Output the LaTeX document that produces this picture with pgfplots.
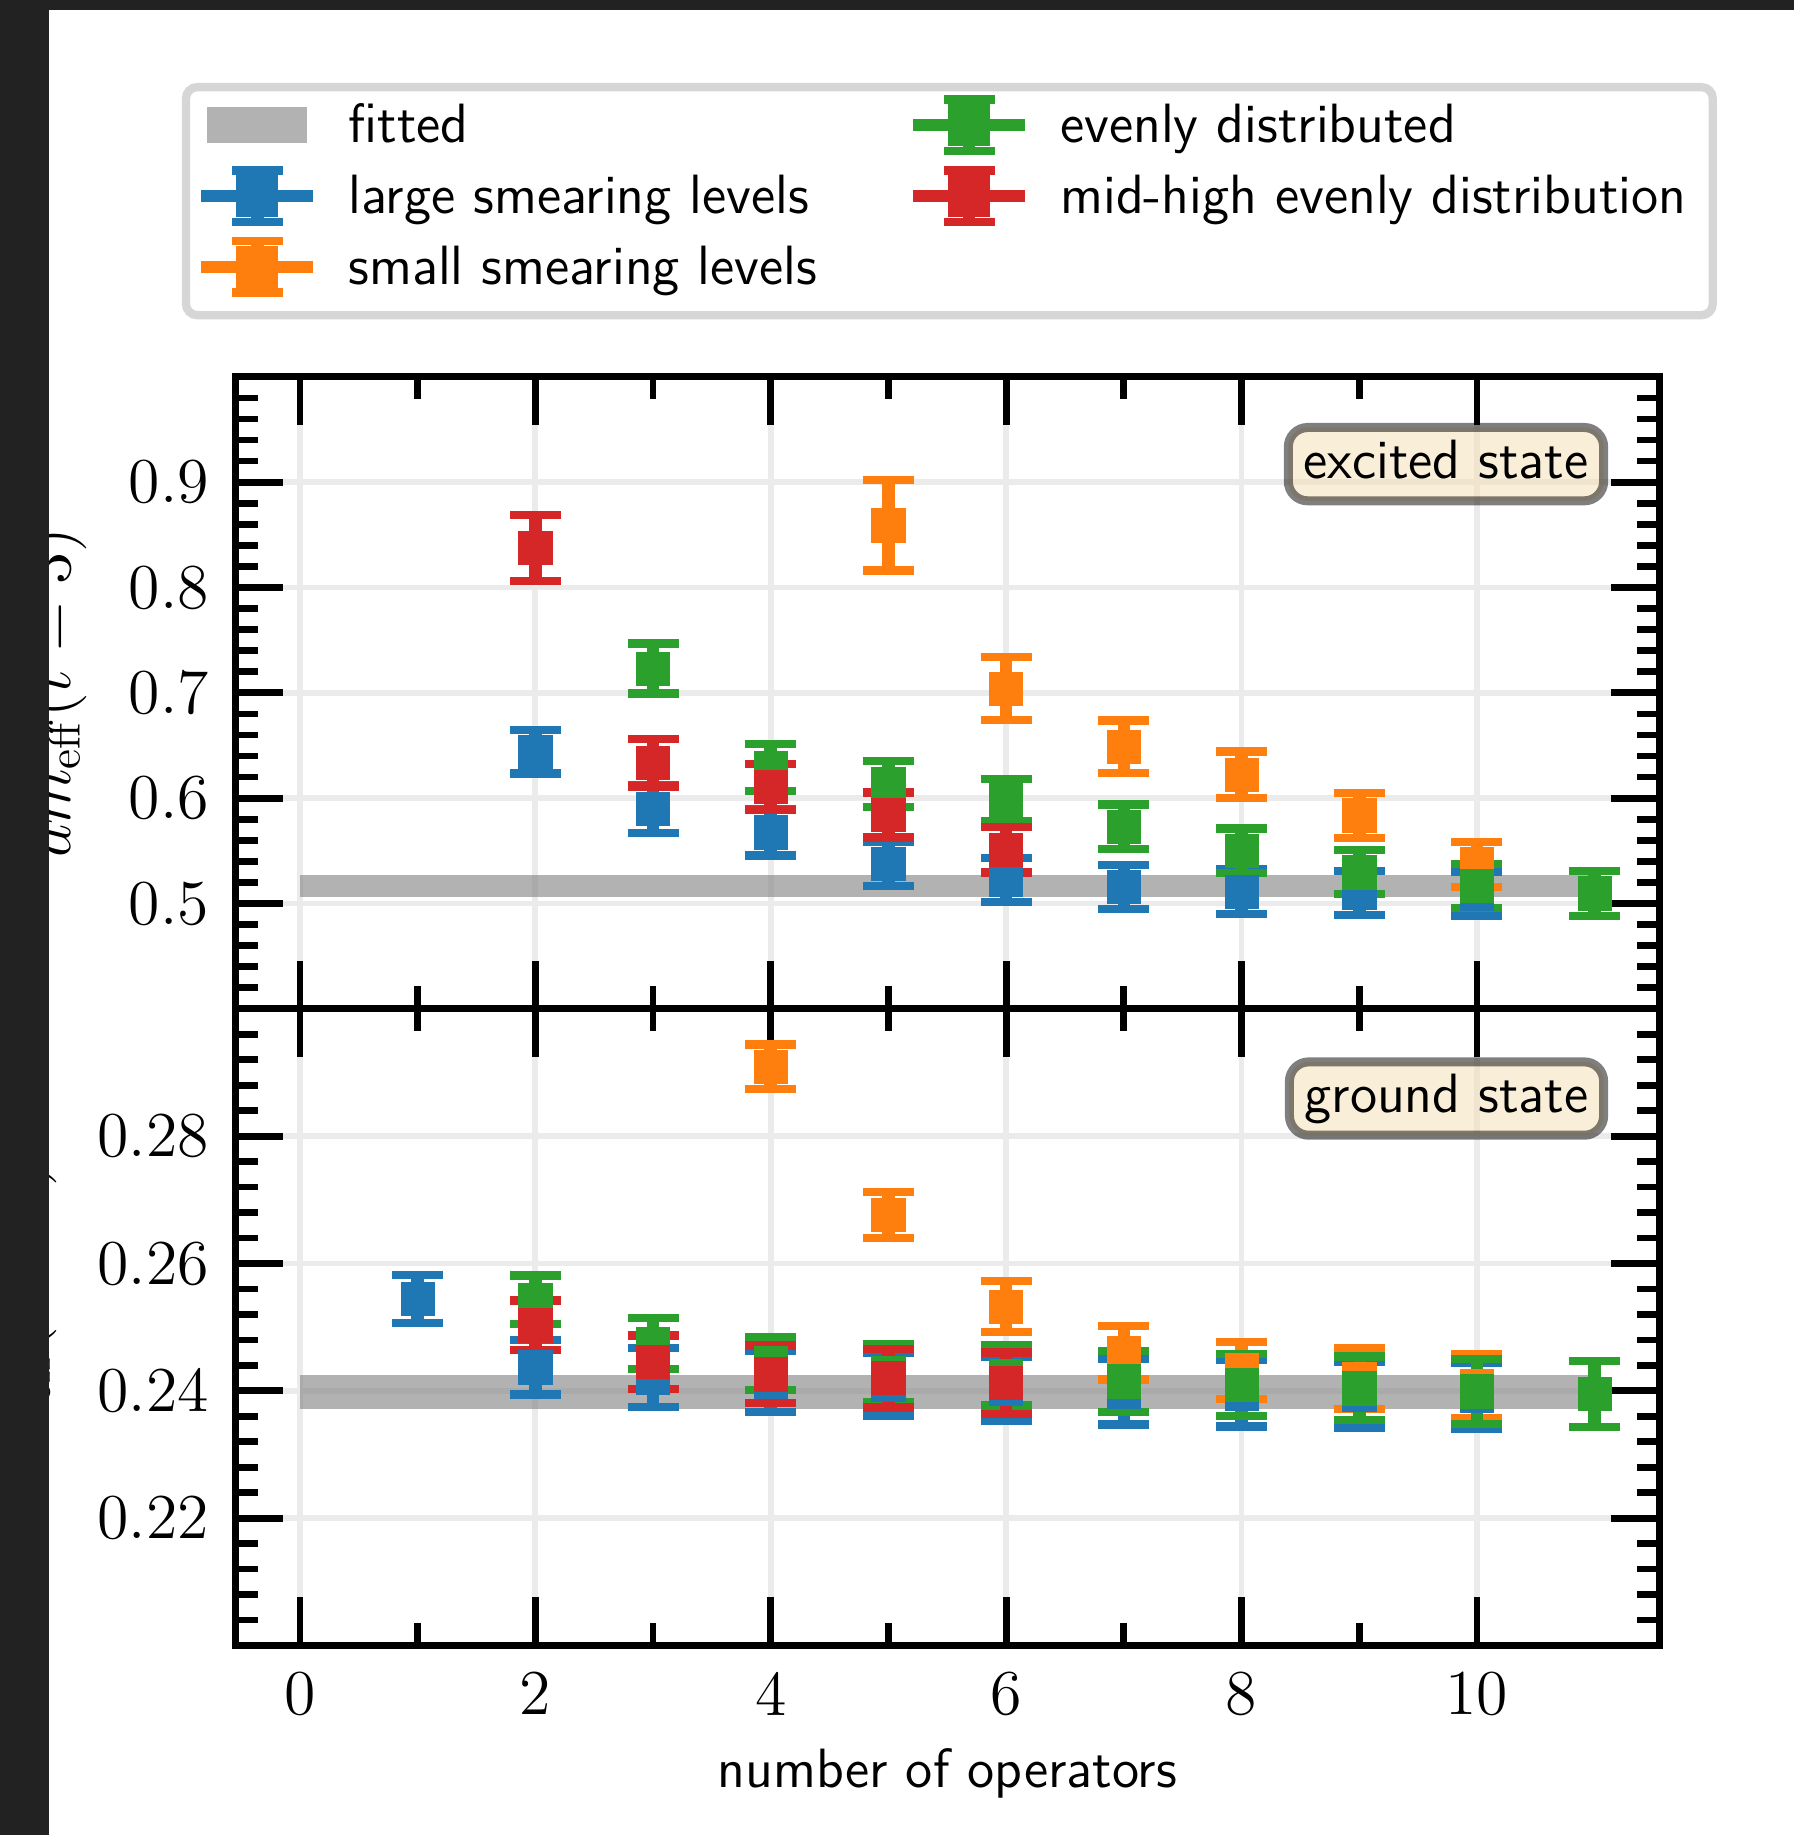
\documentclass[border=0pt]{standalone}
\usepackage{pgfplots}
\pgfplotsset{compat=1.18}
\usepackage{pgfplotstable}

\definecolor{cblue}{HTML}{1F77B4}
\definecolor{corange}{HTML}{FF7F0E}
\definecolor{cgreen}{HTML}{2CA02C}
\definecolor{cred}{HTML}{D62728}
\definecolor{gridc}{HTML}{EBEBEB}
\definecolor{framec}{HTML}{222222}
\definecolor{legc}{HTML}{D6D6D6}
\definecolor{wheat}{HTML}{F5DEB3}

% ---------------- excited state ----------------
\pgfplotstableread{
x y e
2 0.6440 0.0205
3 0.5895 0.0225
4 0.5675 0.0218
5 0.5378 0.0210
6 0.5224 0.0210
7 0.5156 0.0210
8 0.5113 0.0210
9 0.5100 0.0210
10 0.5090 0.0210
}\exblue
\pgfplotstableread{
x y e
5 0.8590 0.0430
6 0.7040 0.0298
7 0.6486 0.0250
8 0.6222 0.0222
9 0.5836 0.0215
10 0.5370 0.0212
}\exorange
\pgfplotstableread{
x y e
3 0.7230 0.0237
4 0.6290 0.0225
5 0.6133 0.0219
6 0.5980 0.0202
7 0.5727 0.0213
8 0.5500 0.0212
9 0.5296 0.0209
10 0.5167 0.0208
11 0.5095 0.0211
}\exgreen
\pgfplotstableread{
x y e
2 0.8376 0.0312
3 0.6335 0.0225
4 0.6105 0.0220
5 0.5840 0.0215
6 0.5510 0.0215
}\exred

% ---------------- ground state ----------------
\pgfplotstableread{
x y e
1 0.2544 0.0038
2 0.2437 0.0043
3 0.2421 0.0046
4 0.2415 0.0048
5 0.2410 0.0050
6 0.2403 0.0050
7 0.2399 0.0052
8 0.2396 0.0052
9 0.2394 0.0052
10 0.2392 0.0052
}\grblue
\pgfplotstableread{
x y e
4 0.2909 0.0035
5 0.2676 0.0036
6 0.2532 0.0040
7 0.2460 0.0042
8 0.2432 0.0045
9 0.2419 0.0048
10 0.2407 0.0050
}\grorange
\pgfplotstableread{
x y e
2 0.2543 0.0038
3 0.2474 0.0040
4 0.2443 0.0042
5 0.2428 0.0046
6 0.2424 0.0047
7 0.2415 0.0048
8 0.2409 0.0049
9 0.2404 0.0050
10 0.2399 0.0051
11 0.2395 0.0052
}\grgreen
\pgfplotstableread{
x y e
2 0.2503 0.0039
3 0.2445 0.0042
4 0.2426 0.0045
5 0.2420 0.0046
6 0.2412 0.0048
}\grred

% legend handle: line + error bar with caps + square; #2 = extra room below
\newcommand{\ebimg}[2]{%
  \draw[#1, sharp corners, line width=2.7pt, line cap=rect] (1.35pt,0pt) -- (23.65pt,0pt);
  \draw[#1, sharp corners, line width=2.8pt] (12.5pt,-4.8pt) -- (12.5pt,4.8pt);
  \draw[#1, sharp corners, line width=1.85pt] (6.83pt,5.7pt) -- (18.17pt,5.7pt);
  \draw[#1, sharp corners, line width=1.85pt] (6.83pt,-5.7pt) -- (18.17pt,-5.7pt);
  \fill[#1, sharp corners] (8.72pt,-3.78pt) rectangle (16.28pt,3.78pt);
  \path[draw=none, fill=none, line width=0pt] (12.5pt,-#2) -- (12.5pt,0pt);
}
\newcommand{\patchimg}{%
  \fill[gray, fill opacity=0.6, draw=none, sharp corners, line width=0pt] (1.35pt,-4pt) rectangle (23.65pt,4pt);
  \path[draw=none, fill=none, line width=0pt] (0pt,-6.62pt) rectangle (25pt,6.62pt);
}

\tikzset{
  statebox/.style={anchor=north east, draw=black, draw opacity=0.5, line width=2pt,
    rounded corners=4.3pt, fill=wheat, fill opacity=0.5, text opacity=1,
    inner xsep=3.35pt, inner ysep=2.45pt, text height=8.8pt, text depth=2.6pt,
    font=\sffamily\fontsize{12.3}{14}\selectfont},
}
\pgfplotsset{
  ebars/.style={forget plot, only marks, mark=none,
    error bars/.cd, y dir=both, y explicit,
    error bar style={line width=2.8pt, color=#1},
    error mark=-,
    error mark options={rotate=90, line width=1.85pt, mark size=5.67pt, color=#1}},
  sq/.style={forget plot, only marks, color=#1, mark=square*, mark size=3.7pt,
    mark options={fill=#1, draw=#1, line width=0.16pt}},
  common/.style={
    scale only axis, width=316.49pt,
    xmin=-0.55, xmax=11.55,
    xtick={0,2,4,6,8,10}, minor x tick num=1,
    minor y tick num=4,
    tick align=inside, tick pos=both,
    major tick length=10.7pt, minor tick length=5pt,
    every major tick/.append style={line width=1.5pt, black},
    every minor tick/.append style={line width=1.5pt, black},
    axis line style={line width=1.5pt},
    grid=major, major grid style={line width=1.3pt, color=gridc},
    xticklabel style={font=\fontsize{14.2}{17}\selectfont, yshift=-2.35pt},
    yticklabel style={font=\fontsize{14.2}{17}\selectfont, xshift=-2.3pt},
  },
}

\begin{document}
\begin{tikzpicture}
\useasboundingbox (0,0) rectangle (398.67pt,407.78pt);
\fill[white] (0,0) rectangle (398.67pt,407.78pt);

% ---------------- upper panel: excited state ----------------
\begin{axis}[common,
  at={(52.27pt,183.6pt)}, anchor=south west, height=140.44pt,
  ymin=0.4, ymax=1.0,
  ytick={0.4,0.5,0.6,0.7,0.8,0.9,1.0},
  yticklabels={{},{0.5},{0.6},{0.7},{0.8},{0.9},{}},
  xticklabels={},
  ylabel={$am_{\mathrm{eff}}(t=3)$},
  ylabel style={font=\fontsize{14.4}{17}\selectfont, at={(axis description cs:-0.116,0.5)}, anchor=base},
  legend columns=2,
  legend cell align=left,
  legend style={at={(axis description cs:-0.03455,1.4585)}, anchor=north west,
    draw=legc, line width=1.85pt, rounded corners=2.5pt, fill=white,
    inner xsep=3.33pt, inner ysep=1.83pt, outer sep=0pt,
    font=\sffamily\fontsize{12.3}{14}\selectfont,
    nodes={inner sep=0pt, text height=8.5pt, text depth=0.7pt},
    row sep=2.5pt, column sep=0pt,
    /tikz/every odd column/.append style={column sep=7.8pt},
    /tikz/every even column/.append style={column sep=21.3pt}},
]
\addplot[fill=gray, fill opacity=0.6, draw=none, forget plot]
  coordinates {(0,0.506) (11,0.506) (11,0.527) (0,0.527)} -- cycle;
\addplot[ebars=cblue]   table[x=x,y=y,y error=e] {\exblue};
\addplot[ebars=corange] table[x=x,y=y,y error=e] {\exorange};
\addplot[ebars=cgreen]  table[x=x,y=y,y error=e] {\exgreen};
\addplot[ebars=cred]    table[x=x,y=y,y error=e] {\exred};
\addplot[sq=cblue]   table[x=x,y=y] {\exblue};
\addplot[sq=corange] table[x=x,y=y] {\exorange};
\addplot[sq=cgreen]  table[x=x,y=y] {\exgreen};
\addplot[sq=cred]    table[x=x,y=y] {\exred};

\addlegendimage{legend image code/.code={\patchimg}}
\addlegendentry{fitted}
\addlegendimage{legend image code/.code={\ebimg{cgreen}{0pt}}}
\addlegendentry{evenly distributed}
\addlegendimage{legend image code/.code={\ebimg{cblue}{0pt}}}
\addlegendentry{large smearing levels}
\addlegendimage{legend image code/.code={\ebimg{cred}{0pt}}}
\addlegendentry{mid-high evenly distribution\kern2.5pt\null}
\addlegendimage{legend image code/.code={\ebimg{corange}{8.9pt}}}
\addlegendentry{small smearing levels}

\node[statebox] at (rel axis cs:0.964,0.927) {excited state};
\end{axis}

% ---------------- lower panel: ground state ----------------
\begin{axis}[common,
  at={(52.27pt,183.6pt)}, anchor=north west, height=141.49pt,
  ymin=0.20, ymax=0.30,
  ytick={0.20,0.22,0.24,0.26,0.28,0.30},
  yticklabels={{},{0.22},{0.24},{0.26},{0.28},{}},
  xticklabels={0,2,4,6,8,10},
  xlabel={number of operators},
  xlabel style={font=\sffamily\fontsize{12.3}{14}\selectfont, at={(axis description cs:0.5,-0.2235)}, anchor=base},
  ylabel={$am_{\mathrm{eff}}(t=3)$},
  ylabel style={font=\fontsize{14.4}{17}\selectfont, at={(axis description cs:-0.137,0.5)}, anchor=base},
]
\addplot[fill=gray, fill opacity=0.6, draw=none, forget plot]
  coordinates {(0,0.2371) (11,0.2371) (11,0.2425) (0,0.2425)} -- cycle;
\addplot[ebars=cblue]   table[x=x,y=y,y error=e] {\grblue};
\addplot[ebars=corange] table[x=x,y=y,y error=e] {\grorange};
\addplot[ebars=cgreen]  table[x=x,y=y,y error=e] {\grgreen};
\addplot[ebars=cred]    table[x=x,y=y,y error=e] {\grred};
\addplot[sq=cblue]   table[x=x,y=y] {\grblue};
\addplot[sq=corange] table[x=x,y=y] {\grorange};
\addplot[sq=cgreen]  table[x=x,y=y] {\grgreen};
\addplot[sq=cred]    table[x=x,y=y] {\grred};

\node[statebox] at (rel axis cs:0.964,0.9237) {ground state};
\end{axis}

% dark frame of the screenshot
\fill[framec] (0,0) rectangle (10.89pt,407.78pt);
\fill[framec] (0,405.56pt) rectangle (398.67pt,407.78pt);
\end{tikzpicture}
\end{document}
